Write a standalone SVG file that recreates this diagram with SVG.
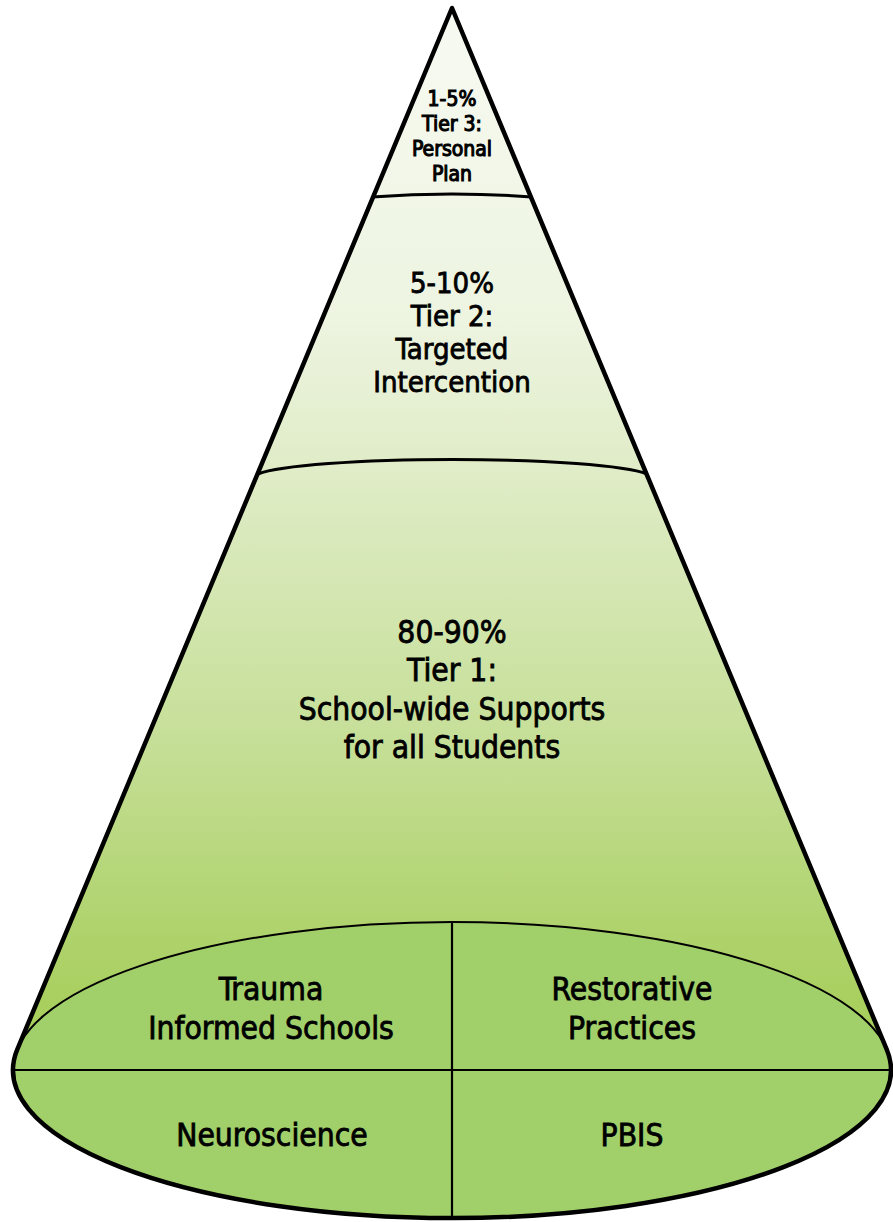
<svg xmlns="http://www.w3.org/2000/svg" width="893" height="1222" viewBox="0 0 893 1222">
  <defs>
    <linearGradient id="coneFill" gradientUnits="userSpaceOnUse" x1="0" y1="8" x2="0" y2="1050">
      <stop offset="0" stop-color="#f7faf2"/>
      <stop offset="0.3" stop-color="#edf4e0"/>
      <stop offset="0.45" stop-color="#dfecc6"/>
      <stop offset="0.7" stop-color="#c6df98"/>
      <stop offset="0.88" stop-color="#b0d36e"/>
      <stop offset="1" stop-color="#a5cd56"/>
    </linearGradient>
    <style>
      .outline { fill: none; stroke: #000; stroke-width: 4.5; stroke-linejoin: round; }
      .band { fill: none; stroke: #000; stroke-width: 3; }
      .thin { fill: none; stroke: #000; stroke-width: 2.2; }
      .disc { fill: #a1cf6a; stroke: #000; stroke-width: 2; }
      .label { font-family: "DejaVu Sans Condensed", "DejaVu Sans", sans-serif; fill: #000; stroke: #000; stroke-width: 0.8; text-anchor: middle; }
      .t1 { font-size: 31.5px; }
      .t2 { font-size: 29px; }
      .t3 { font-size: 21px; stroke-width: 1.1; }
      .base { font-size: 31.5px; }
    </style>
  </defs>

  <!-- cone body -->
  <g id="cone">
    <path d="M452,8 L17.3,1049.4 A439,148 0 1 0 886.7,1049.4 Z" fill="url(#coneFill)"/>
  </g>

  <!-- base ellipse with four quadrants -->
  <g id="base">
    <ellipse cx="452" cy="1070" rx="439" ry="148" class="disc"/>
    <line x1="13" y1="1070" x2="891" y2="1070" class="thin"/>
    <line x1="452" y1="922" x2="452" y2="1218" class="thin"/>
  </g>

  <!-- tier boundaries -->
  <g id="bands">
    <path d="M372,197 Q452,191 532,197" class="band"/>
    <path d="M258,474 A200,19 0 0 1 647,474" class="band"/>
  </g>

  <!-- heavy outline on top -->
  <g id="outline">
    <path d="M452,8 L17.3,1049.4 A439,148 0 1 0 886.7,1049.4 Z" class="outline"/>
  </g>

  <g id="tier3">
    <text class="label t3" x="452" y="106">1-5%</text>
    <text class="label t3" x="452" y="131">Tier 3:</text>
    <text class="label t3" x="452" y="156">Personal</text>
    <text class="label t3" x="452" y="181">Plan</text>
  </g>

  <g id="tier2">
    <text class="label t2" x="452" y="293">5-10%</text>
    <text class="label t2" x="452" y="326">Tier 2:</text>
    <text class="label t2" x="452" y="359">Targeted</text>
    <text class="label t2" x="452" y="392">Intercention</text>
  </g>

  <g id="tier1">
    <text class="label t1" x="452" y="643">80-90%</text>
    <text class="label t1" x="452" y="681">Tier 1:</text>
    <text class="label t1" x="452" y="720">School-wide Supports</text>
    <text class="label t1" x="452" y="758">for all Students</text>
  </g>

  <g id="trauma">
    <text class="label base" x="271" y="1000">Trauma</text>
    <text class="label base" x="271" y="1039">Informed Schools</text>
  </g>
  <g id="restorative">
    <text class="label base" x="632" y="1000">Restorative</text>
    <text class="label base" x="632" y="1039">Practices</text>
  </g>
  <g id="neuroscience">
    <text class="label base" x="272" y="1146">Neuroscience</text>
  </g>
  <g id="pbis">
    <text class="label base" x="632" y="1146">PBIS</text>
  </g>
</svg>
